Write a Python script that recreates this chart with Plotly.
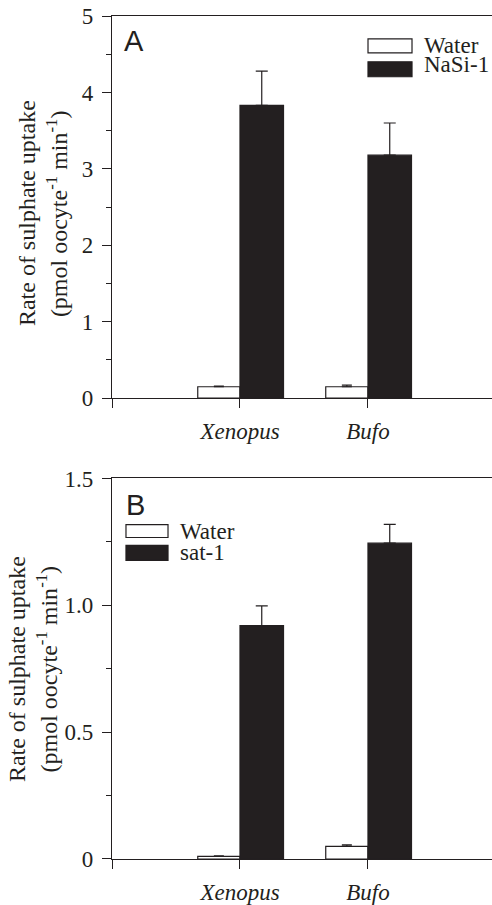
import plotly.graph_objects as go

# ---- data ----
species = ["Xenopus", "Bufo"]
xpos = [1, 2]

series_a = ["Water", "NaSi-1"]
water_a = [0.15, 0.15]
water_a_err = [0.01, 0.02]
nasi_a = [3.83, 3.18]
nasi_a_err = [0.45, 0.42]

series_b = ["Water", "sat-1"]
water_b = [0.01, 0.05]
water_b_err = [0.002, 0.006]
sat_b = [0.92, 1.245]
sat_b_err = [0.078, 0.074]

ytick_a = [0, 1, 2, 3, 4, 5]
ytick_a_text = ["0", "1", "2", "3", "4", "5"]
ytick_b = [0, 0.5, 1.0, 1.5]
ytick_b_text = ["0", "0.5", "1.0", "1.5"]

INK = "#231f20"
SERIF = "'Liberation Serif', 'Times New Roman', Times, serif"
SANS = "'Liberation Sans', Arial, sans-serif"

fig = go.Figure()


def add_bars(xa, ya, water, werr, other, oerr, names):
    fig.add_trace(go.Bar(
        x=xpos, y=water, width=0.33, offset=-0.33, name=names[0],
        marker=dict(color="white", line=dict(color=INK, width=1.2)),
        error_y=dict(type="data", symmetric=False, array=werr,
                     arrayminus=[0] * len(werr), color=INK, thickness=1.2, width=5),
        xaxis=xa, yaxis=ya, showlegend=False))
    fig.add_trace(go.Bar(
        x=xpos, y=other, width=0.34, offset=0, name=names[1],
        marker=dict(color=INK, line=dict(color=INK, width=1.2)),
        error_y=dict(type="data", symmetric=False, array=oerr,
                     arrayminus=[0] * len(oerr), color=INK, thickness=1.2, width=6),
        xaxis=xa, yaxis=ya, showlegend=False))


add_bars("x", "y", water_a, water_a_err, nasi_a, nasi_a_err, series_a)
add_bars("x2", "y2", water_b, water_b_err, sat_b, sat_b_err, series_b)

xcommon = dict(
    range=[0, 2.969], tickvals=[0] + xpos,
    ticktext=[""] + ["<i>%s</i>" % s for s in species],
    ticks="outside", ticklen=9, tickwidth=1.2, tickcolor=INK,
    showline=True, linecolor=INK, linewidth=1.2, mirror=True,
    showgrid=False, zeroline=False, ticklabelstandoff=3,
    tickfont=dict(family=SERIF, size=23, color=INK),
)
ycommon = dict(
    ticks="outside", ticklen=9, tickwidth=1.2, tickcolor=INK,
    showline=True, linecolor=INK, linewidth=1.2,
    showgrid=False, zeroline=False, ticklabelstandoff=4,
    tickfont=dict(family=SERIF, size=23, color=INK),
)

fig.update_layout(
    width=492, height=905,
    margin=dict(l=112, r=0, t=16, b=42),
    paper_bgcolor="white", plot_bgcolor="white",
    barmode="overlay",
    font=dict(family=SERIF, color=INK),
    xaxis=dict(anchor="y", domain=[0, 1], **xcommon),
    xaxis2=dict(anchor="y2", domain=[0, 1], **xcommon),
    yaxis=dict(anchor="x", domain=[0.5466, 1], range=[0, 5],
               tickvals=ytick_a, ticktext=ytick_a_text,
               minor=dict(dtick=0.5, ticks="outside", ticklen=5, tickwidth=1.2, tickcolor=INK),
               **ycommon),
    yaxis2=dict(anchor="x2", domain=[0, 0.4514], range=[0, 1.5],
                tickvals=ytick_b, ticktext=ytick_b_text,
                minor=dict(dtick=0.25, ticks="outside", ticklen=5, tickwidth=1.2, tickcolor=INK),
                **ycommon),
)

ann = []
shapes = []

# y-axis titles (two lines each)
line1 = "Rate of sulphate uptake"
line2 = "(pmol oocyte<sup>-1</sup> min<sup>-1</sup>)"
for yref, cy, x1, x2 in [("y domain", 0.484, -0.224, -0.145),
                         ("y2 domain", 0.499, -0.250, -0.170)]:
    ann.append(dict(text=line1, xref="paper", yref=yref, x=x1, y=cy,
                    textangle=-90, showarrow=False, xanchor="center", yanchor="middle",
                    font=dict(family=SERIF, size=24, color=INK)))
    ann.append(dict(text=line2, xref="paper", yref=yref, x=x2, y=cy,
                    textangle=-90, showarrow=False, xanchor="center", yanchor="middle",
                    font=dict(family=SERIF, size=24, color=INK)))

# panel letters
ann.append(dict(text="A", xref="x domain", yref="y domain", x=0.026, y=0.935,
                showarrow=False, xanchor="left", yanchor="middle",
                font=dict(family=SANS, size=29, color=INK)))
ann.append(dict(text="B", xref="x2 domain", yref="y2 domain", x=0.032, y=0.929,
                showarrow=False, xanchor="left", yanchor="middle",
                font=dict(family=SANS, size=29, color=INK)))


def legend(xr, yr, bx0, bx1, boxes, tx, names):
    fills = ["white", INK]
    for (y0, y1, ty), name, fill in zip(boxes, names, fills):
        shapes.append(dict(type="rect", xref=xr, yref=yr, x0=bx0, x1=bx1, y0=y0, y1=y1,
                           fillcolor=fill, line=dict(color=INK, width=1.2)))
        ann.append(dict(text=name, xref=xr, yref=yr, x=tx, y=ty, showarrow=False,
                        xanchor="left", yanchor="middle",
                        font=dict(family=SERIF, size=23, color=INK)))


legend("x domain", "y domain", 0.6737, 0.7895,
       [(0.9036, 0.9401, 0.9219), (0.8411, 0.8802, 0.8737)], 0.8158, series_a)
legend("x2 domain", "y2 domain", 0.0368, 0.1474,
       [(0.8449, 0.8789, 0.8619), (0.7847, 0.8240, 0.8043)], 0.1737, series_b)

fig.update_layout(annotations=ann, shapes=shapes)

fig.write_html("out.html")
